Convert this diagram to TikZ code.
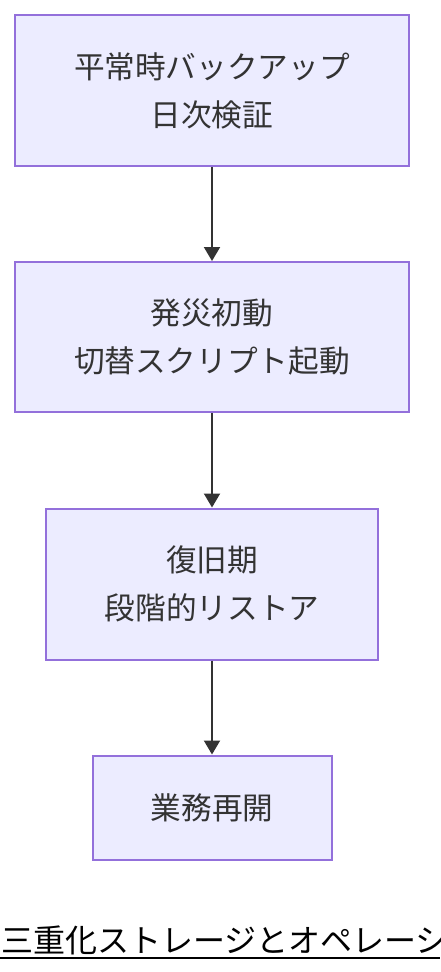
\documentclass[tikz,border=0pt]{standalone}
\usepackage{fontspec}
\setmainfont{Noto Sans CJK JP}
\usetikzlibrary{arrows.meta}
\definecolor{boxfill}{HTML}{ECECFF}
\definecolor{boxline}{HTML}{9370DB}
\definecolor{ink}{HTML}{333333}
\begin{document}
\begin{tikzpicture}[x=0.75pt,y=-0.75pt,
  stepbox/.style={draw=boxline,fill=boxfill,line width=1.5pt,text=ink,align=center,
    font=\fontsize{23pt}{36pt}\selectfont,inner sep=0pt},
  flow/.style={draw=ink,line width=1.5pt,-{Triangle[length=10.5pt,width=12pt]}}]
\useasboundingbox (0,0) rectangle (440,972);
\node[stepbox,minimum width=394*0.75pt,minimum height=151*0.75pt] (a) at (212,90.5) {平常時バックアップ\\日次検証};
\node[stepbox,minimum width=394*0.75pt,minimum height=150*0.75pt] (b) at (212,337) {発災初動\\切替スクリプト起動};
\node[stepbox,minimum width=332*0.75pt,minimum height=151*0.75pt] (c) at (212,584) {復旧期\\段階的リストア};
\node[stepbox,minimum width=239*0.75pt,minimum height=104*0.75pt] (d) at (212,807.5) {業務再開};
\draw[flow] (a.south) -- (b.north);
\draw[flow] (b.south) -- (c.north);
\draw[flow] (c.south) -- (d.north);
\node[anchor=base west,inner sep=0pt,font=\fontsize{24pt}{28pt}\selectfont,text=black] (t) at (1,952) {三重化ストレージとオペレーシ};
\coordinate (u1) at (0,958);
\coordinate (u2) at (440,958);
\draw[black,line width=1.5pt] (u1) -- (u2);
\end{tikzpicture}
\end{document}
